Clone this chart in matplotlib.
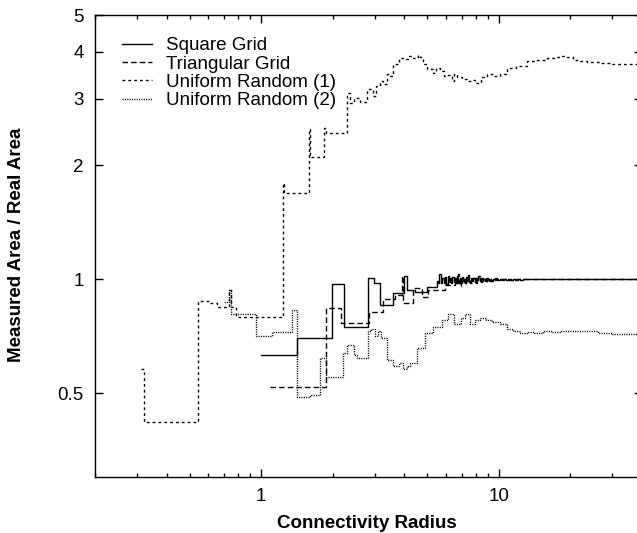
import matplotlib
matplotlib.use("Agg")
import matplotlib.pyplot as plt
from matplotlib.ticker import FixedLocator, NullFormatter, FixedFormatter

plt.rcParams['font.family'] = ['Liberation Sans', 'DejaVu Sans']

# ---- data ----
sq_x = [1.0, 1.42, 1.99, 2.23, 2.81, 2.98, 3.16, 3.59, 4.0, 4.1, 4.43, 4.97, 5.47,
        5.55, 5.62, 5.70, 5.78, 5.85, 5.93, 6.0, 6.08, 6.15, 6.23, 6.3, 6.38, 6.45, 6.53,
        6.6, 6.68, 6.75, 6.83, 6.9, 6.98, 7.05, 7.13, 7.2, 7.28, 7.35, 7.43, 7.5, 7.6,
        7.7, 7.8, 7.9, 8.0, 8.1, 8.2, 8.3, 8.4, 8.5, 8.6, 8.7, 8.8, 8.9, 9.0, 9.1, 9.2,
        9.3, 9.45, 9.6, 9.75, 9.9, 10.1, 10.3, 10.5, 10.7, 10.95, 11.2, 11.45, 11.7, 12.0,
        12.3, 12.65, 13.0, 40.0]
sq_y = [0.63, 0.70, 0.97, 0.747, 1.006, 0.976, 0.854, 0.92, 1.02, 0.935, 0.925, 0.953, 0.99,
        0.975, 1.03, 0.98, 1.01, 0.975, 1.015, 0.97, 1.02, 0.985, 1.01, 0.98, 1.015, 0.985, 1.01,
        0.975, 1.02, 0.985, 1.005, 0.98, 1.015, 0.99, 1.0, 0.98, 1.015, 0.99, 1.005, 0.985, 1.01,
        0.99, 1.005, 0.985, 1.01, 0.993, 1.005, 0.99, 1.008, 0.992, 1.004, 0.99, 1.006, 0.994, 1.004,
        0.992, 1.004, 0.995, 1.003, 0.994, 1.004, 0.996, 1.003, 0.995, 1.002, 0.997, 1.003, 0.997,
        1.002, 0.998, 1.002, 0.998, 1.001, 1.0, 1.0]

tri_x = [1.09, 1.88, 2.17, 2.84, 3.26, 3.66, 3.90, 3.96, 4.36, 4.73, 5.05, 5.93, 6.53,
         6.62, 6.7, 6.78, 6.85, 6.93, 7.0, 7.1, 7.2, 7.3, 7.4, 7.48, 7.55, 7.68, 7.8, 7.9,
         8.0, 8.1, 8.2, 8.3, 8.4, 8.5, 8.6, 8.7, 8.8, 8.9, 9.0, 9.15, 9.3, 9.45, 9.6, 9.8,
         10.0, 10.25, 10.5, 10.75, 11.0, 11.5, 12.0, 40.0]
tri_y = [0.519, 0.838, 0.765, 0.82, 0.886, 0.907, 1.02, 0.865, 0.947, 0.897, 0.935, 0.964, 0.99,
         0.975, 1.03, 0.98, 0.96, 1.0, 1.0, 0.985, 0.97, 1.0, 1.025, 0.99, 0.98, 1.0, 1.01, 0.985,
         0.975, 1.0, 1.02, 0.99, 0.985, 1.005, 1.0, 0.99, 0.985, 1.0, 1.01, 0.995, 0.99, 1.004,
         1.005, 0.994, 0.995, 1.003, 1.0, 0.996, 0.997, 1.002, 1.0, 1.0]

ur1_x = [0.313, 0.322, 0.544, 0.61, 0.65, 0.735, 0.745, 0.78, 1.23, 1.25, 1.59, 1.61, 1.84, 1.87,
         2.30, 2.36, 2.45, 2.6, 2.79, 2.95, 3.05, 3.16, 3.27, 3.38, 3.48, 3.59, 3.8, 3.95, 4.15,
         4.3, 4.44, 4.55, 4.66, 4.79, 5.0, 5.28, 5.45, 5.65, 5.85, 6.1, 6.35, 6.5, 6.66, 7.0,
         7.34, 7.6, 7.93, 8.4, 8.9, 9.5, 10.1, 10.8, 11.8, 13.1, 14.5, 15.9, 17.0, 18.0, 19.2,
         20.5, 22.0, 23.4, 26.6, 30.0, 34.0, 40.0]
ur1_y = [0.58, 0.42, 0.875, 0.864, 0.844, 0.936, 0.844, 0.794, 1.80, 1.69, 2.49, 2.10, 2.52, 2.44,
         3.11, 2.93, 3.02, 2.95, 3.19, 3.06, 3.25, 3.35, 3.28, 3.49, 3.45, 3.71, 3.85, 3.82, 3.9,
         3.84, 3.88, 3.92, 3.86, 3.71, 3.6, 3.52, 3.62, 3.56, 3.45, 3.48, 3.35, 3.5, 3.42, 3.38,
         3.35, 3.36, 3.31, 3.42, 3.49, 3.45, 3.49, 3.63, 3.66, 3.78, 3.8, 3.85, 3.87, 3.9, 3.86,
         3.81, 3.78, 3.76, 3.73, 3.71, 3.72, 3.71]

ur2_x = [0.70, 0.735, 0.745, 0.95, 1.11, 1.35, 1.42, 1.60, 1.77, 1.87, 2.21, 2.30, 2.45, 2.53,
         2.81, 2.9, 3.0, 3.1, 3.2, 3.38, 3.59, 3.8, 3.95, 4.1, 4.22, 4.52, 4.89, 5.28, 5.76,
         6.1, 6.5, 6.9, 7.2, 7.55, 7.9, 8.3, 8.8, 9.4, 10.1, 10.8, 11.5, 12.3, 13.1, 13.9,
         15.3, 16.5, 18.0, 20.0, 23.4, 26.0, 30.0, 34.0, 40.0]
ur2_y = [0.87, 0.936, 0.81, 0.707, 0.725, 0.83, 0.488, 0.495, 0.62, 0.55, 0.64, 0.67, 0.63, 0.62,
         0.73, 0.74, 0.71, 0.73, 0.70, 0.61, 0.59, 0.60, 0.58, 0.59, 0.60, 0.66, 0.72, 0.75, 0.78,
         0.81, 0.76, 0.79, 0.81, 0.76, 0.78, 0.79, 0.78, 0.77, 0.76, 0.74, 0.73, 0.72, 0.725, 0.72,
         0.73, 0.725, 0.73, 0.728, 0.73, 0.722, 0.716, 0.718, 0.72]

labels = ["Square Grid", "Triangular Grid", "Uniform Random (1)", "Uniform Random (2)"]
x_label = "Connectivity Radius"
y_label = "Measured Area / Real Area"
y_ticks = [0.5, 1, 2, 3, 4, 5]
y_tick_labels = ["0.5", "1", "2", "3", "4", "5"]
x_ticks = [1, 10]
x_tick_labels = ["1", "10"]
x_minor = [0.2, 0.3, 0.4, 0.5, 0.6, 0.7, 0.8, 0.9, 2, 3, 4, 5, 6, 7, 8, 9, 20, 30, 40]

W, H = 637, 533
fig = plt.figure(figsize=(W / 100, H / 100), dpi=100)
L, R, T, B = 95, 642, 15, 477
ax = fig.add_axes([L / W, (H - B) / H, (R - L) / W, (B - T) / H])
ax.set_xscale('log')
ax.set_yscale('log')
ax.set_xlim(0.2, 40)
ax.set_ylim(0.3, 5)

lw = 1.0
ax.step(sq_x, sq_y, where='post', color='black', lw=lw, label=labels[0])
ax.step(tri_x, tri_y, where='post', color='black', lw=lw, dashes=(4.0, 2.2), label=labels[1])
ax.step(ur1_x, ur1_y, where='post', color='black', lw=lw, dashes=(2.0, 2.2), label=labels[2])
ax.step(ur2_x, ur2_y, where='post', color='black', lw=lw, dashes=(0.8, 0.9), label=labels[3])

ax.yaxis.set_major_locator(FixedLocator(y_ticks))
ax.yaxis.set_major_formatter(FixedFormatter(y_tick_labels))
ax.yaxis.set_minor_locator(FixedLocator([]))
ax.yaxis.set_minor_formatter(NullFormatter())
ax.xaxis.set_major_locator(FixedLocator(x_ticks))
ax.xaxis.set_major_formatter(FixedFormatter(x_tick_labels))
ax.xaxis.set_minor_locator(FixedLocator(x_minor))
ax.xaxis.set_minor_formatter(NullFormatter())

fs = 13.5
ax.tick_params(which='both', direction='in', top=True, right=True, width=1.0,
               labelsize=fs, colors='black')
ax.tick_params(which='major', length=5.8, pad=8)
ax.tick_params(which='minor', length=3.0)
for s in ax.spines.values():
    s.set_linewidth(1.0)

fig.text(367 / W, 1 - 523 / H, x_label, ha='center', va='center',
         fontsize=fs, fontweight='bold')
fig.text(17 / W, 1 - 245 / H, y_label, ha='center', va='center', rotation=90,
         fontsize=fs, fontweight='bold')

leg = ax.legend(loc='upper left', bbox_to_anchor=(27 / (R - L), 1 - 22 / (B - T)),
                frameon=False, fontsize=fs, handlelength=1.6, handletextpad=0.75,
                borderpad=0, borderaxespad=0, labelspacing=0.07)

fig.savefig("out.png", dpi=100)
